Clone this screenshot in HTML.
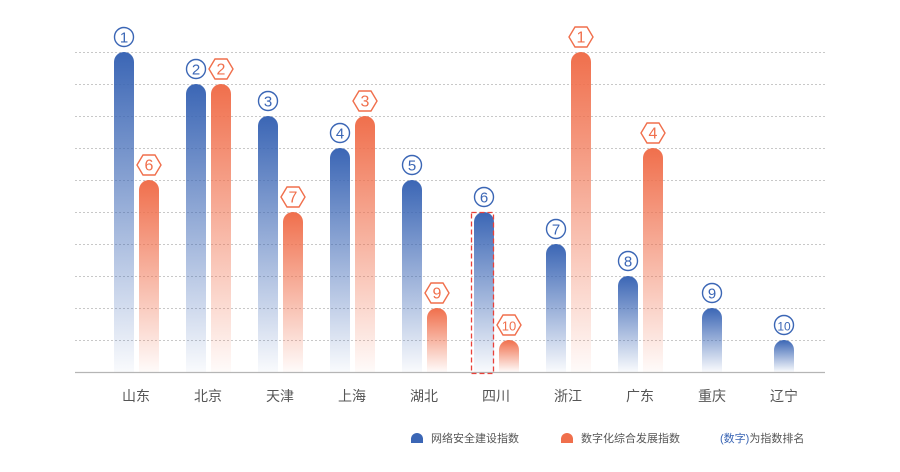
<!DOCTYPE html>
<html><head><meta charset="utf-8"><style>
html,body{margin:0;padding:0;background:#fff;}
svg{display:block;font-family:"Liberation Sans","Noto Sans CJK SC",sans-serif;}
</style></head><body>
<svg width="900" height="472" viewBox="0 0 900 472" xmlns="http://www.w3.org/2000/svg">
<defs>
<linearGradient id="gb" x1="0" y1="0" x2="0" y2="1">
<stop offset="0" stop-color="#3b66b5"/><stop offset="1" stop-color="#3b66b5" stop-opacity="0.03"/>
</linearGradient>
<linearGradient id="go" x1="0" y1="0" x2="0" y2="1">
<stop offset="0" stop-color="#f06f4c"/><stop offset="1" stop-color="#f06f4c" stop-opacity="0.03"/>
</linearGradient>
</defs>
<g stroke="#c8c8c8" stroke-width="1" stroke-dasharray="2,2">
<line x1="75" y1="52.5" x2="825" y2="52.5"/><line x1="75" y1="84.5" x2="825" y2="84.5"/>
<line x1="75" y1="116.5" x2="825" y2="116.5"/><line x1="75" y1="148.5" x2="825" y2="148.5"/>
<line x1="75" y1="180.5" x2="825" y2="180.5"/><line x1="75" y1="212.5" x2="825" y2="212.5"/>
<line x1="75" y1="244.5" x2="825" y2="244.5"/><line x1="75" y1="276.5" x2="825" y2="276.5"/>
<line x1="75" y1="308.5" x2="825" y2="308.5"/><line x1="75" y1="340.5" x2="825" y2="340.5"/>
</g>
<g id="bars"></g>
<line x1="75" y1="372.5" x2="825" y2="372.5" stroke="#b5b5b5" stroke-width="1.2"/>
<rect x="471.5" y="212.5" width="22" height="161" fill="none" stroke="#e8413a" stroke-width="1.3" stroke-dasharray="5,3"/>
<g id="labels" font-size="14" fill="#555" text-anchor="middle"></g>
<g font-size="11" fill="#555">
<path d="M411 443 v-4 a6 6 0 0 1 12 0 v4 z" fill="#3b66b5"/>
<text x="431" y="442">网络安全建设指数</text>
<path d="M561 443 v-4 a6 6 0 0 1 12 0 v4 z" fill="#f06f4c"/>
<text x="581" y="442">数字化综合发展指数</text>
<text x="720" y="442"><tspan fill="#3b66b5">(数字)</tspan>为指数排名</text>
</g>
</svg>
<script>
var ns="http://www.w3.org/2000/svg";
var names=["山东","北京","天津","上海","湖北","四川","浙江","广东","重庆","辽宁"];
var bt=[52,84,116,148,180,212,244,276,308,340];
var ot=[180,84,212,116,308,340,52,148,null,null];
var orank=[6,2,7,3,9,10,1,4];
var g=document.getElementById("bars"),L=document.getElementById("labels");
function el(t,a,p){var e=document.createElementNS(ns,t);for(var k in a)e.setAttribute(k,a[k]);(p||g).appendChild(e);return e;}
function bar(cx,top,fill){var x=cx-10,w=20,r=10;
el("path",{d:"M"+x+" 372 V"+(top+r)+" a10 10 0 0 1 20 0 V372 Z",fill:fill});}
function circ(cx,cy,n,c){el("circle",{cx:cx,cy:cy,r:9.5,fill:"#fff",stroke:c,"stroke-width":1.4});
var t=el("text",{x:cx,y:cy+5.5,"text-anchor":"middle","font-size":n>9?12:15,fill:c});t.textContent=n;}
function hex(cx,cy,n,c){var p=[[-12,0],[-6,-10],[6,-10],[12,0],[6,10],[-6,10]].map(function(a){return (cx+a[0])+","+(cy+a[1]);}).join(" ");
el("polygon",{points:p,fill:"#fff",stroke:c,"stroke-width":1.4});
var t=el("text",{x:cx,y:cy+5.5,"text-anchor":"middle","font-size":n>9?13:16,fill:c});t.textContent=n;}
for(var i=0;i<10;i++){var c=136+72*i;
var bx=ot[i]===null?c:c-12;
bar(bx,bt[i],"url(#gb)");circ(bx,bt[i]-15,i+1,"#3b66b5");
if(ot[i]!==null){bar(c+13,ot[i],"url(#go)");hex(c+13,ot[i]-15,orank[i],"#f06f4c");}
var t=el("text",{x:c,y:401},L);t.textContent=names[i];}
</script>
</body></html>
